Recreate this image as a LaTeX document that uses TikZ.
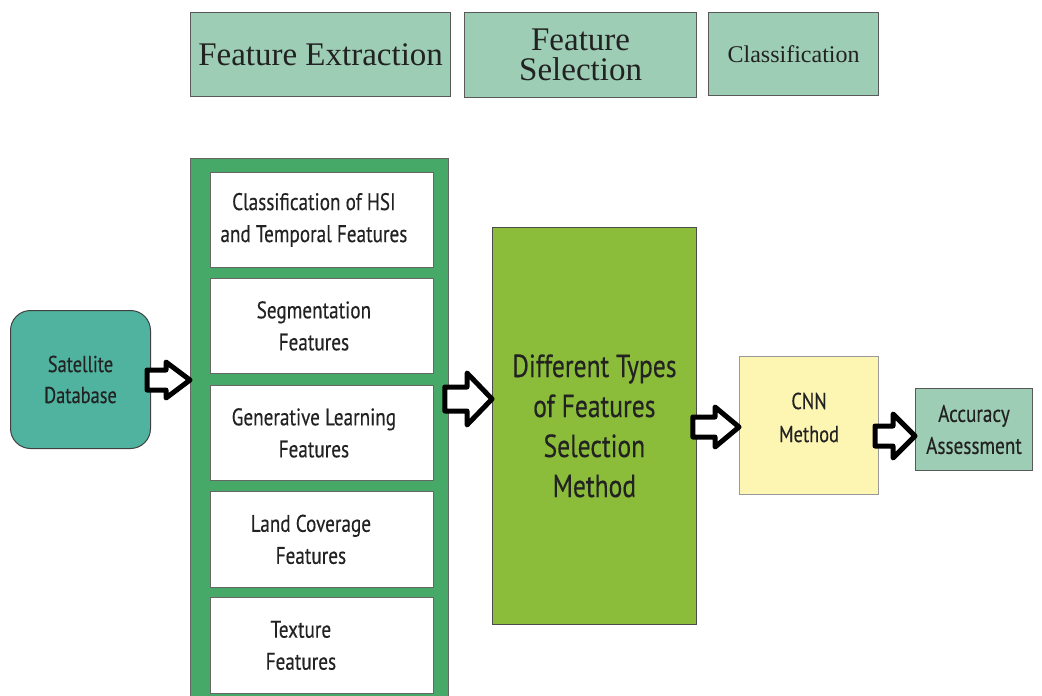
\documentclass[tikz,border=0pt]{standalone}
\usepackage{fontspec}
\setmainfont{Liberation Serif}
\newfontfamily\condsans[FakeStretch=0.8,FakeBold=0.3]{PT Sans}
\usetikzlibrary{calc}

\definecolor{topfill}{HTML}{9DCDB4}
\definecolor{satfill}{HTML}{50B3A0}
\definecolor{stackgreen}{HTML}{47A968}
\definecolor{methodgreen}{HTML}{8BBC3A}
\definecolor{cnnfill}{HTML}{FDF5B2}
\definecolor{inkgray}{HTML}{222222}

\tikzset{
  box/.style={anchor=north west, inner sep=0pt, align=center, text=inkgray},
  topbox/.style={box, draw=black!65, line width=1.2pt, fill=topfill,
    font=\fontsize{33}{30}\selectfont},
  satbox/.style={box, draw=black!75, line width=1pt, fill=satfill,
    rounded corners=20pt, font=\condsans\fontsize{23}{31}\selectfont},
  stackframe/.style={box, draw=black!60, line width=0.8pt, fill=stackgreen},
  featbox/.style={box, draw=black!60, line width=0.8pt, fill=white},
  feattext/.style={inner sep=0pt, align=center, text=inkgray,
    font=\condsans\fontsize{24}{32}\selectfont},
  methodbox/.style={box, draw=black!70, line width=0.8pt, fill=methodgreen,
    font=\condsans\fontsize{32}{40}\selectfont},
  cnnbox/.style={box, draw=black!40, line width=1pt, fill=cnnfill},
  cnntext/.style={inner sep=0pt, align=center, text=inkgray,
    font=\condsans\fontsize{23}{33}\selectfont},
  accbox/.style={box, draw=black!65, line width=1pt, fill=topfill,
    font=\condsans\fontsize{24}{32}\selectfont},
  hollow/.style={draw=black, fill=white, line width=5pt, line join=round},
}

% hollow block arrow from the east side of #1 to the west side of #2
% #3 centre line (measured downwards), #4 shaft half width,
% #5 head half width, #6 head length
\newcommand\hollowarrow[6]{%
  \draw[hollow] let \p1=(#1.east), \p2=(#2.west) in
    (\x1-4pt,-#3pt+#4pt) -- (\x2-#6pt,-#3pt+#4pt) -- (\x2-#6pt,-#3pt+#5pt)
    -- (\x2,-#3pt) -- (\x2-#6pt,-#3pt-#5pt) -- (\x2-#6pt,-#3pt-#4pt)
    -- (\x1-4pt,-#3pt-#4pt) -- cycle;}

\begin{document}
\begin{tikzpicture}[x=1pt,y=1pt]
\useasboundingbox (0,0) rectangle (1042,-696);
\clip (0,0) rectangle (1042,-696);
\fill[white] (0,0) rectangle (1042,-696);

% stage headers
\node[topbox, minimum width=260pt, minimum height=84pt] (fe) at (190,-12) {Feature Extraction};
\node[topbox, minimum width=232pt, minimum height=85pt] (fs) at (464,-12) {Feature\\Selection};
\node[topbox, minimum width=170pt, minimum height=83pt,
      font=\fontsize{24}{28}\selectfont] (cl) at (708,-12) {Classification};

% input
\node[satbox, minimum width=140pt, minimum height=138pt] (sat) at (10,-310) {Satellite\\Database};

% stack of extracted features
\node[stackframe, minimum width=258pt, minimum height=560pt] (stack) at (190,-158) {};
\node[featbox, minimum width=223pt, minimum height=95pt] (f1) at (210,-172) {};
\node[featbox, minimum width=223pt, minimum height=95pt] (f2) at (210,-278) {};
\node[featbox, minimum width=223pt, minimum height=95pt] (f3) at (210,-385) {};
\node[featbox, minimum width=223pt, minimum height=96pt] (f4) at (210,-491) {};
\node[featbox, minimum width=223pt, minimum height=96pt] (f5) at (210,-597) {};
\node[feattext] (f1t) at ($(f1.center)+(-8,0)$) {Classification of HSI\\and Temporal Features};
\node[feattext] (f2t) at ($(f2.center)+(-8,0)$) {Segmentation\\Features};
\node[feattext] (f3t) at ($(f3.center)+(-8,0)$) {Generative Learning\\Features};
\node[feattext] (f4t) at ($(f4.center)+(-11,0)$) {Land Coverage\\Features};
\node[feattext] (f5t) at ($(f5.center)+(-21,0)$) {Texture\\Features};

% selection, classifier, assessment
\node[methodbox, minimum width=204pt, minimum height=397pt] (sel) at (492,-227)
  {Different Types\\of Features\\Selection\\Method};
\node[cnnbox, minimum width=139pt, minimum height=138pt] (cnn) at (739,-356) {};
\node[cnntext] (cnnt) at ($(cnn.center)+(0,8)$) {CNN\\Method};
\node[accbox, minimum width=117pt, minimum height=82pt] (acc) at (915,-388) {Accuracy\\Assessment};

% flow arrows
\hollowarrow{sat}{stack}{380}{10}{18}{24}
\hollowarrow{stack}{sel}{399}{12}{26}{25}
\hollowarrow{sel}{cnn}{427}{10}{20}{24}
\hollowarrow{cnn}{acc}{436}{10}{22}{22}
\end{tikzpicture}
\end{document}
